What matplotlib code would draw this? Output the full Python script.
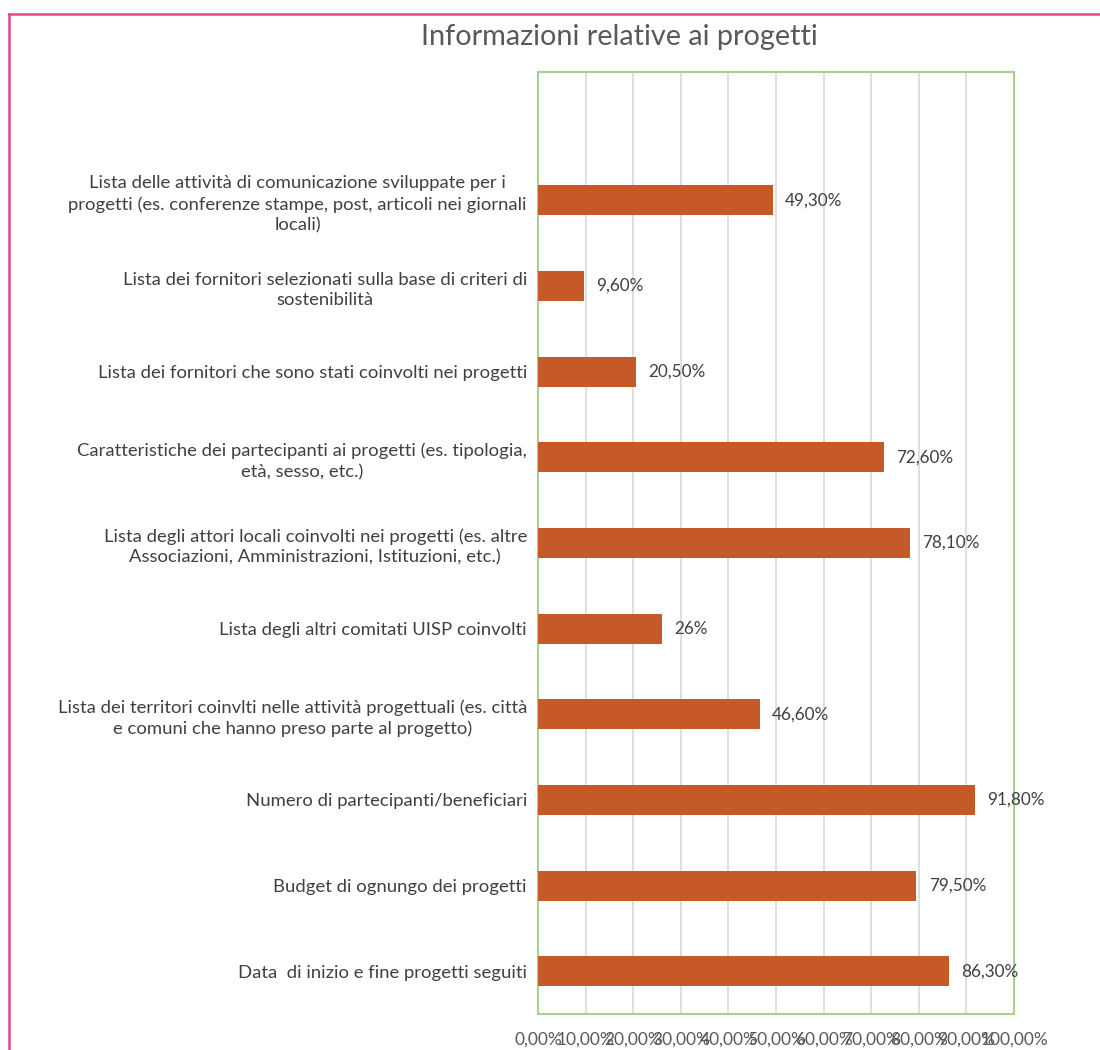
import numpy as np
import matplotlib.pyplot as plt
from matplotlib.lines import Line2D

plt.rcParams.update(
    {
        "font.family": ["Lato", "DejaVu Sans"],
        "font.size": 12,
    }
)

# categories listed top to bottom, as they appear in the chart
CATEGORIES = [
    "Lista delle attività di comunicazione sviluppate per i\n"
    "progetti (es. conferenze stampe, post, articoli nei giornali\nlocali)",
    "Lista dei fornitori selezionati sulla base di criteri di\nsostenibilità",
    "Lista dei fornitori che sono stati coinvolti nei progetti",
    "Caratteristiche dei partecipanti ai progetti (es. tipologia,\netà, sesso, etc.)",
    "Lista degli attori locali coinvolti nei progetti (es. altre\n"
    "Associazioni, Amministrazioni, Istituzioni, etc.)",
    "Lista degli altri comitati UISP coinvolti",
    "Lista dei territori coinvlti nelle attività progettuali (es. città\n"
    "e comuni che hanno preso parte al progetto)",
    "Numero di partecipanti/beneficiari",
    "Budget di ognungo dei progetti",
    "Data  di inizio e fine progetti seguiti",
]
VALUES = [49.3, 9.6, 20.5, 72.6, 78.1, 26.0, 46.6, 91.8, 79.5, 86.3]
VALUE_LABELS = ["49,30%", "9,60%", "20,50%", "72,60%", "78,10%",
                "26%", "46,60%", "91,80%", "79,50%", "86,30%"]
X_TICKS = [0, 10, 20, 30, 40, 50, 60, 70, 80, 90, 100]
X_TICK_LABELS = [f"{t},00%" for t in X_TICKS]

BAR_COLOR = "#C55A28"
GRID_COLOR = "#D9D9D9"
FRAME_COLOR = "#A9D18E"
BORDER_COLOR = "#E0468C"
TEXT_COLOR = "#595959"
LABEL_COLOR = "#404040"


def make_plot():
    fig = plt.figure(figsize=(11, 10.5), dpi=100)
    ax = fig.add_axes([538 / 1100, 36 / 1050, 476 / 1100, 942 / 1050])

    n = len(VALUES)
    ypos = np.arange(n)[::-1]
    ax.barh(ypos, VALUES, height=0.35, color=BAR_COLOR, zorder=3)

    for y, v, lab in zip(ypos, VALUES, VALUE_LABELS):
        ax.text(v + 2.6, y, lab, va="center", ha="left", fontsize=12.3,
                color=LABEL_COLOR, zorder=4)

    ax.set_xlim(0, 100)
    ax.set_ylim(-0.5, 10.5)
    ax.set_xticks(X_TICKS)
    ax.set_xticklabels(X_TICK_LABELS, fontsize=12.5, color=TEXT_COLOR)
    ax.set_yticks(ypos)
    ax.set_yticklabels(CATEGORIES, fontsize=13.3, color=LABEL_COLOR,
                       linespacing=1.37)
    for lbl in ax.get_yticklabels():
        lbl.set_multialignment("center")
    ax.tick_params(axis="x", length=0, pad=13)
    ax.tick_params(axis="y", length=0, pad=8)

    ax.grid(axis="x", color=GRID_COLOR, lw=1.2, zorder=0)
    ax.set_axisbelow(True)
    for side in ax.spines.values():
        side.set_color(FRAME_COLOR)
        side.set_linewidth(1.5)

    fig.text(619 / 1100, 1 - 37 / 1050, "Informazioni relative ai progetti",
             ha="center", va="center", fontsize=20.8, color=TEXT_COLOR)

    # pink outer frame (left and top edges)
    fig.add_artist(Line2D([8.5 / 1100, 8.5 / 1100], [0, 1 - 13.5 / 1050],
                          transform=fig.transFigure, color=BORDER_COLOR, lw=1.8))
    fig.add_artist(Line2D([8.5 / 1100, 1], [1 - 13.5 / 1050, 1 - 13.5 / 1050],
                          transform=fig.transFigure, color=BORDER_COLOR, lw=1.8))

    fig.savefig("out.png", dpi=100)
    return fig, ax


if __name__ == "__main__":
    make_plot()
